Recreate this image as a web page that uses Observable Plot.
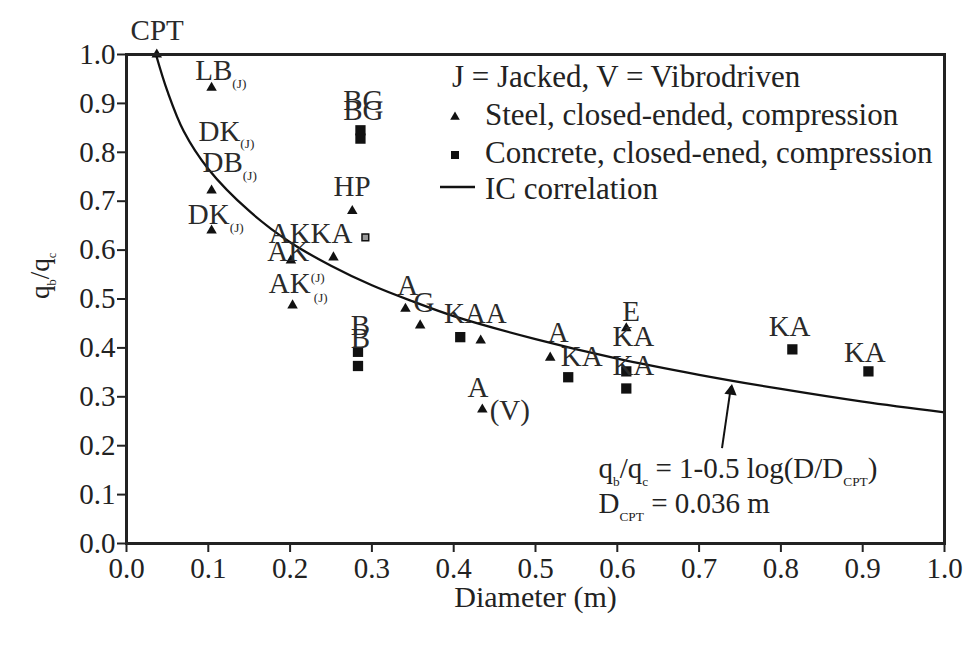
<!DOCTYPE html>
<html><head><meta charset="utf-8">
<script src="https://cdn.jsdelivr.net/npm/d3@7"></script>
<script src="https://cdn.jsdelivr.net/npm/@observablehq/plot@0.6"></script>
<style>
html,body{margin:0;padding:0;background:#fff;}
#chart{width:963px;height:660px;}
#chart svg g[aria-label="x-axis tick"], #chart svg g[aria-label="y-axis tick"]{stroke-width:2px;}
#chart svg .tick line{stroke-width:2px;}
</style></head><body><div id="chart"></div>
<script>
const FONT = "Liberation Serif";
const xTicks = [0, 0.1, 0.2, 0.3, 0.4, 0.5, 0.6, 0.7, 0.8, 0.9, 1.0];
const yTicks = [0, 0.1, 0.2, 0.3, 0.4, 0.5, 0.6, 0.7, 0.8, 0.9, 1.0];

// Steel, closed-ended, compression (triangles)
const steelD = [0.037, 0.104, 0.104, 0.104, 0.276, 0.201, 0.253, 0.203, 0.341, 0.359, 0.433, 0.435, 0.518, 0.611];
const steelQ = [1.000, 0.932, 0.722, 0.640, 0.680, 0.579, 0.585, 0.487, 0.480, 0.446, 0.415, 0.274, 0.380, 0.440];

// Concrete, closed-ended, compression (squares)
const concreteD = [0.286, 0.286, 0.283, 0.283, 0.408, 0.540, 0.611, 0.611, 0.814, 0.907];
const concreteQ = [0.845, 0.828, 0.392, 0.363, 0.422, 0.340, 0.352, 0.317, 0.397, 0.352];
const concreteSmallD = [0.292];
const concreteSmallQ = [0.626];

// IC correlation
const curveD = [0.036, 0.05, 0.07, 0.10, 0.15, 0.20, 0.25, 0.30, 0.35, 0.40, 0.50, 0.60, 0.70, 0.80, 0.90, 1.00];
const curveQ = [1.000, 0.925, 0.843, 0.766, 0.680, 0.616, 0.568, 0.528, 0.495, 0.465, 0.418, 0.378, 0.345, 0.316, 0.290, 0.268];

// point labels (left edge, vertical centre)
const labelText = ["CPT", "LB_{(J)}", "DK_{(J)}", "DB_{(J)}", "DK_{(J)}", "AK", "KA", "AK", "AK^{(J)}", "HP", "BG", "BG",
  "A", "G", "KAA", "B", "B", "A", "(V)", "A", "KA", "E", "KA", "KA", "KA", "KA"];
const labelD = [0.005, 0.084, 0.088, 0.093, 0.075, 0.174, 0.225, 0.172, 0.174, 0.253, 0.265, 0.265,
  0.331, 0.351, 0.388, 0.274, 0.274, 0.417, 0.444, 0.515, 0.531, 0.606, 0.594, 0.594, 0.785, 0.877];
const labelQ = [1.049, 0.967, 0.843, 0.779, 0.673, 0.634, 0.634, 0.597, 0.532, 0.730, 0.906, 0.886,
  0.528, 0.493, 0.470, 0.446, 0.419, 0.319, 0.272, 0.431, 0.382, 0.474, 0.423, 0.364, 0.444, 0.391];
const smallLabelText = ["(J)"];
const smallLabelD = [0.229];
const smallLabelQ = [0.503];

// correlation annotation
const equationText = ["q_{b}/q_{c} = 1-0.5 log(D/D_{CPT})", "D_{CPT} = 0.036 m"];
const equationD = [0.577, 0.577];
const equationQ = [0.153, 0.082];
const arrowD = [0.728, 0.739];
const arrowQ = [0.195, 0.322];

const legendTitle = "J = Jacked, V = Vibrodriven";
const legendItems = ["Steel, closed-ended, compression", "Concrete, closed-ened, compression", "IC correlation"];
const xLabel = "Diameter (m)";
const yLabel = "q_{b}/q_{c}";

const ML = 126, MR = 19, MT = 54, MB = 117, W = 963, H = 660;

const steel = steelD.map((d, i) => ({d, q: steelQ[i]}));
const concrete = concreteD.map((d, i) => ({d, q: concreteQ[i]}));
const concreteSmall = concreteSmallD.map((d, i) => ({d, q: concreteSmallQ[i]}));
const curve = curveD.map((d, i) => ({d, q: curveQ[i]}));
const labels = labelText.map((t, i) => ({t, d: labelD[i], q: labelQ[i]}));
const smallLabels = smallLabelText.map((t, i) => ({t, d: smallLabelD[i], q: smallLabelQ[i]}));
const equations = equationText.map((t, i) => ({t, d: equationD[i], q: equationQ[i]}));
const arrow = [{x1: arrowD[0], y1: arrowQ[0], x2: arrowD[1], y2: arrowQ[1]}];
const arrowTip = [{d: arrowD[1], q: arrowQ[1]}];

function legendMark() {
  const g = d3.create("svg:g").attr("font-family", FONT).attr("font-size", 31)
    .attr("fill", "#222").attr("text-anchor", "start");
  const x0 = ML + 326;
  g.append("text").attr("x", x0).attr("y", 77).attr("dy", "0.32em").text(legendTitle);
  const ys = [115, 153, 189];
  const tri = d3.symbol(d3.symbolTriangle, 40)();
  const sq = d3.symbol(d3.symbolSquare, 64)();
  g.append("path").attr("d", tri).attr("transform", `translate(${x0 + 3},${ys[0] + 2})`).attr("fill", "#111");
  g.append("path").attr("d", sq).attr("transform", `translate(${x0 + 3},${ys[1] + 2})`).attr("fill", "#111");
  g.append("line").attr("x1", ML + 314).attr("x2", ML + 349).attr("y1", ys[2] - 2).attr("y2", ys[2] - 2)
    .attr("stroke", "#111").attr("stroke-width", 2.5);
  legendItems.forEach((t, i) => {
    g.append("text").attr("x", x0 + 33).attr("y", ys[i]).attr("dy", "0.32em").text(t);
  });
  return g.node();
}

function richify(svg) {
  svg.querySelectorAll("text").forEach(t => {
    const s = t.textContent;
    if (!/[_^]\{/.test(s)) return;
    const fsEl = t.closest("[font-size]");
    const fs = fsEl ? parseFloat(fsEl.getAttribute("font-size")) : 30;
    const parts = [];
    const re = /([_^])\{([^}]*)\}/g;
    let last = 0, m;
    while ((m = re.exec(s))) {
      if (m.index > last) parts.push({t: s.slice(last, m.index), k: 0});
      parts.push({t: m[2], k: m[1] === "_" ? 1 : -1});
      last = re.lastIndex;
    }
    if (last < s.length) parts.push({t: s.slice(last), k: 0});
    t.textContent = "";
    let cur = 0;
    parts.forEach(p => {
      const ts = document.createElementNS("http://www.w3.org/2000/svg", "tspan");
      const target = p.k === 1 ? 0.27 * fs : p.k === -1 ? -0.36 * fs : 0;
      if (target !== cur) ts.setAttribute("dy", target - cur);
      cur = target;
      if (p.k) ts.setAttribute("font-size", 0.46 * fs);
      ts.textContent = p.t;
      t.appendChild(ts);
    });
  });
}

const chart = Plot.plot({
  width: W, height: H,
  marginLeft: ML, marginRight: MR, marginTop: MT, marginBottom: MB,
  style: {fontFamily: FONT, fontSize: "29px", color: "#222", background: "#fff", overflow: "visible"},
  x: {domain: [0, 1], ticks: xTicks, tickFormat: d3.format(".1f"), tickSize: 9, tickPadding: 5, label: null},
  y: {domain: [0, 1], ticks: yTicks, tickFormat: d3.format(".1f"), tickSize: 9, tickPadding: 2, label: null},
  marks: [
    Plot.line(curve, {x: "d", y: "q", curve: "catmull-rom", stroke: "#111", strokeWidth: 2.3}),
    Plot.link(arrow, {x1: "x1", y1: "y1", x2: "x2", y2: "y2", stroke: "#111", strokeWidth: 2}),
    Plot.dot(arrowTip, {x: "d", y: "q", symbol: "triangle", r: 4.6, rotate: 8, dy: 5, fill: "#111", stroke: "none"}),
    Plot.dot(steel, {x: "d", y: "q", symbol: "triangle", r: 3.9, fill: "#111", stroke: "none"}),
    Plot.dot(concrete, {x: "d", y: "q", symbol: "square", r: 5.8, fill: "#111", stroke: "none"}),
    Plot.dot(concreteSmall, {x: "d", y: "q", symbol: "square", r: 3.8, fill: "#999", stroke: "#111", strokeWidth: 1.5}),
    Plot.text(labels, {x: "d", y: "q", text: "t", textAnchor: "start", fontSize: 29, fill: "#2a2a2a"}),
    Plot.text(smallLabels, {x: "d", y: "q", text: "t", textAnchor: "start", fontSize: 13, fill: "#2a2a2a"}),
    Plot.text(equations, {x: "d", y: "q", text: "t", textAnchor: "start", fontSize: 29, fill: "#222"}),
    Plot.text([xLabel], {text: d => d, frameAnchor: "bottom", dy: 63, fontSize: 30, fill: "#222"}),
    Plot.text([yLabel], {text: d => d, frameAnchor: "left", dx: -86, rotate: -90, fontSize: 27, fill: "#222"}),
    Plot.frame({stroke: "#222", strokeWidth: 3}),
    legendMark
  ]
});
richify(chart);
document.getElementById("chart").appendChild(chart);
</script></body></html>
